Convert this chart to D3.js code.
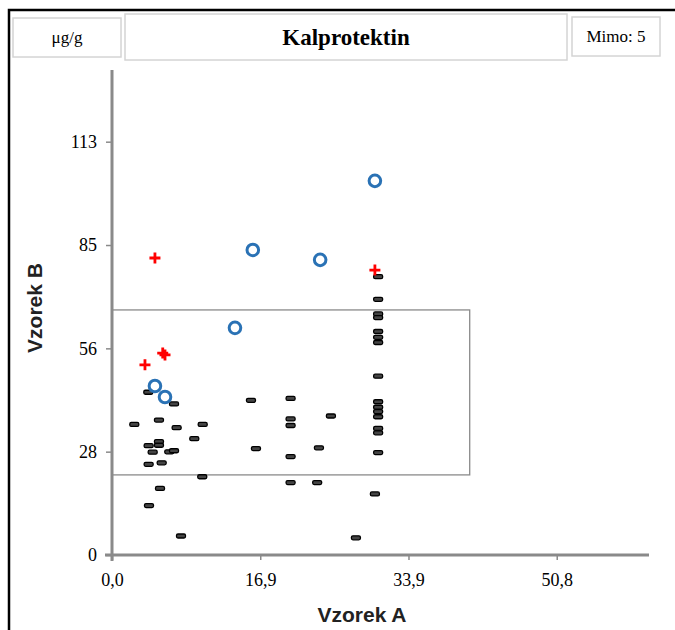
<!DOCTYPE html>
<html><head><meta charset="utf-8">
<script src="https://cdn.jsdelivr.net/npm/d3@7"></script>
<style>body{margin:0;background:#fff}svg{display:block}</style>
</head><body><svg id="c" width="675" height="630"></svg>
<script>
// ---- data ----
const xTicks = [0, 16.95, 33.9, 50.85];
const xTickLabels = ["0,0", "16,9", "33,9", "50,8"];
const yTicks = [0, 28.25, 56.5, 84.75, 113];
const yTickLabels = ["0", "28", "56", "85", "113"];
const limitBox = {x0: 0, x1: 40.9, y0: 21.9, y1: 67.0};
const circles = [[30.06,102.3],[16.1,83.4],[23.8,80.7],[14.06,62.1],[4.91,46.2],[6.06,43.2]];
const pluses = [[4.91,81.2],[30.06,77.9],[6.06,54.7],[5.8,55.2],[3.77,52.0]];
const dashes = [
 [2.55,35.7],[4.15,44.5],[5.37,36.9],[7.09,41.3],[7.39,34.8],[10.37,35.7],[9.41,31.8],
 [5.37,31.0],[5.37,30.0],[4.19,29.9],[4.65,28.1],[6.55,28.2],[7.09,28.5],[4.19,24.8],
 [5.68,25.2],[10.32,21.4],[5.49,18.2],[4.23,13.5],[7.89,5.2],[15.89,42.3],[16.46,29.1],
 [20.42,42.8],[20.42,37.2],[20.42,35.4],[20.42,26.9],[20.42,19.8],[25.03,38.0],[23.66,29.3],
 [23.46,19.8],[27.89,4.7],[30.06,16.7],
 [30.43,76.1],[30.43,69.9],[30.43,65.9],[30.43,64.9],[30.43,61.1],[30.43,59.5],[30.43,58.1],
 [30.43,48.9],[30.43,41.9],[30.43,40.4],[30.43,39.2],[30.43,37.8],[30.43,34.6],[30.43,33.4],[30.43,28.0]
];
const unitLabel = "μg/g", titleText = "Kalprotektin", outsideLabel = "Mimo: 5";
const xTitle = "Vzorek A", yTitle = "Vzorek B";

// ---- drawing ----
const svg = d3.select("#c");
const x = d3.scaleLinear().domain([0, 61.4]).range([112, 649]);
const y = d3.scaleLinear().domain([0, 132.6]).range([555, 70]);
const serif = "'Liberation Serif','Times New Roman',serif";
const sans = "'Liberation Sans',Arial,sans-serif";

// outer frame
svg.append("path").attr("d","M9,700 L9,10 L700,10").attr("fill","none").attr("stroke","#000").attr("stroke-width",2.5);

// header boxes
const boxes = [
  {x:13,y:18,w:108,h:39,t:unitLabel,fs:17,fw:"normal"},
  {x:125,y:14,w:442,h:46,t:titleText,fs:23,fw:"bold"},
  {x:572,y:17,w:88,h:39,t:outsideLabel,fs:17,fw:"normal"}
];
boxes.forEach(b=>{
  svg.append("rect").attr("x",b.x).attr("y",b.y).attr("width",b.w).attr("height",b.h)
    .attr("fill","#fff").attr("stroke","#d4d4d4").attr("stroke-width",1.5);
  svg.append("text").attr("x",b.x+b.w/2).attr("y",b.y+b.h/2).attr("dy","0.35em")
    .attr("text-anchor","middle").attr("font-family",serif).attr("font-size",b.fs)
    .attr("font-weight",b.fw).attr("fill","#000").text(b.t);
});

// limit box
svg.append("rect").attr("x",x(limitBox.x0)).attr("y",y(limitBox.y1))
  .attr("width",x(limitBox.x1)-x(limitBox.x0)).attr("height",y(limitBox.y0)-y(limitBox.y1))
  .attr("fill","none").attr("stroke","#8a8a8a").attr("stroke-width",1.3);

// axes
const yAxis = d3.axisLeft(y).tickValues(yTicks).tickSize(6).tickPadding(9)
  .tickFormat((d,i)=>yTickLabels[i]);
const gy = svg.append("g").attr("transform",`translate(${x(0)},0)`).call(yAxis);
const xAxis = d3.axisBottom(x).tickValues(xTicks).tickSize(5).tickPadding(13)
  .tickFormat((d,i)=>xTickLabels[i]);
const gx = svg.append("g").attr("transform",`translate(0,${y(0)})`).call(xAxis);
[gx,gy].forEach(g=>{
  g.select(".domain").attr("stroke","#8a8a8a").attr("stroke-width",3);
  g.selectAll(".tick line").attr("stroke","#8a8a8a").attr("stroke-width",1.5);
  g.selectAll(".tick text").attr("font-family",serif).attr("font-size",18).attr("fill","#000");
});
gy.select(".domain").attr("d",`M0,${y(132.6)}V${y(0)+6}`);
gx.select(".domain").attr("d",`M${x(0)-7},0H${x(61.4)}`);

// axis titles
svg.append("text").attr("x",362).attr("y",622).attr("text-anchor","middle")
  .attr("font-family",sans).attr("font-weight","bold").attr("font-size",21).attr("fill","#222").text(xTitle);
svg.append("text").attr("transform","translate(42,308) rotate(-90)").attr("text-anchor","middle")
  .attr("font-family",sans).attr("font-weight","bold").attr("font-size",21).attr("fill","#222").text(yTitle);

// dashes
svg.append("g").selectAll("rect").data(dashes).join("rect")
  .attr("x",d=>x(d[0])-4.5).attr("y",d=>y(d[1])-2).attr("width",9).attr("height",4).attr("rx",1.5)
  .attr("fill","#444").attr("stroke","#000").attr("stroke-width",1.3);

// pluses
svg.append("g").selectAll("path").data(pluses).join("path")
  .attr("d",d=>`M${x(d[0])-5.5},${y(d[1])}h11M${x(d[0])},${y(d[1])-5.5}v11`)
  .attr("stroke","#f00").attr("stroke-width",2.8).attr("fill","none");

// circles
svg.append("g").selectAll("circle").data(circles).join("circle")
  .attr("cx",d=>x(d[0])).attr("cy",d=>y(d[1])).attr("r",5.8)
  .attr("fill","none").attr("stroke","#2a72b5").attr("stroke-width",3);
</script></body></html>
